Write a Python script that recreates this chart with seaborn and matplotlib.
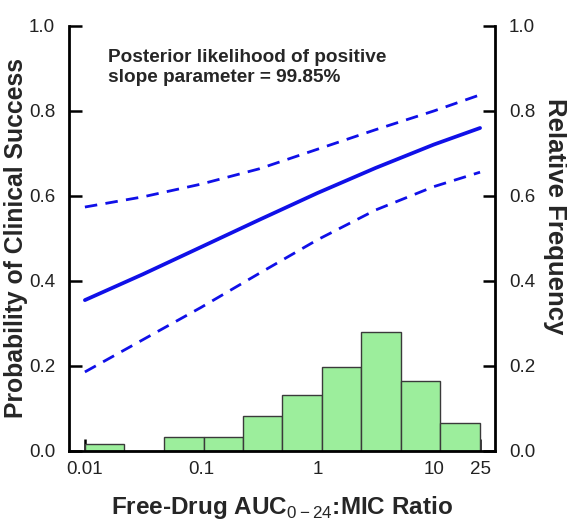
import numpy as np
import pandas as pd
import matplotlib
matplotlib.use("Agg")
import matplotlib.pyplot as plt
import seaborn as sns

# Data
auc_mic = [0.01, 0.0316, 0.1, 0.316, 1, 3.16, 10, 25]
prob_median = [0.355, 0.416, 0.480, 0.544, 0.607, 0.666, 0.721, 0.760]
prob_upper = [0.574, 0.598, 0.628, 0.664, 0.710, 0.756, 0.800, 0.838]
prob_lower = [0.186, 0.262, 0.338, 0.418, 0.497, 0.567, 0.622, 0.656]

# Histogram of AUC:MIC ratios (relative frequency per log-spaced bin)
bin_edges = [0.01, 0.0219, 0.0479, 0.105, 0.229, 0.5, 1.09, 2.39, 5.23, 11.4, 25]
rel_freq = [0.016, 0.0, 0.033, 0.033, 0.082, 0.131, 0.197, 0.279, 0.164, 0.066]

x_ticks = [0.01, 0.1, 1, 10, 25]
x_ticklabels = ["0.01", "0.1", "1", "10", "25"]
y_ticks = [0.0, 0.2, 0.4, 0.6, 0.8, 1.0]

sns.set_style("ticks")
plt.rcParams["font.family"] = ["Liberation Sans", "DejaVu Sans"]
plt.rcParams["mathtext.fontset"] = "custom"
plt.rcParams["mathtext.rm"] = "Liberation Sans"
plt.rcParams["mathtext.bf"] = "Liberation Sans:bold"

fig = plt.figure(figsize=(5.67, 5.23), dpi=100)
ax = fig.add_axes([0.1217, 0.1377, 0.7513, 0.8126])

# histogram bars
ax.bar(bin_edges[:-1], rel_freq,
       width=np.diff(bin_edges), align="edge",
       color="#9cee9c", edgecolor="#3a3a3a", linewidth=1.0, zorder=1)

# curves
curves = pd.DataFrame({"ratio": auc_mic, "median": prob_median,
                       "upper": prob_upper, "lower": prob_lower})
blue = "#1010e8"
sns.lineplot(data=curves, x="ratio", y="median", ax=ax, color=blue,
             linewidth=2.7, zorder=3)
sns.lineplot(data=curves, x="ratio", y="upper", ax=ax, color=blue,
             linewidth=2.0, zorder=3)
sns.lineplot(data=curves, x="ratio", y="lower", ax=ax, color=blue,
             linewidth=2.0, zorder=3)
ax.lines[1].set_dashes((4.5, 3.0))
ax.lines[2].set_dashes((4.5, 3.0))

ax.set_xscale("log")
ax.set_xlim(0.0073, 33.6)
ax.set_ylim(0, 1.0)
ax.set_xticks(x_ticks)
ax.set_xticklabels(x_ticklabels)
ax.xaxis.set_minor_locator(matplotlib.ticker.NullLocator())
ax.set_yticks(y_ticks)
ax.set_yticklabels([f"{v:.1f}" for v in y_ticks])

for side in ["left", "right", "bottom"]:
    ax.spines[side].set_linewidth(2.0)
    ax.spines[side].set_color("black")
ax.spines["top"].set_visible(False)
ax.spines["right"].set_visible(True)

ax.tick_params(axis="both", direction="in", length=9, width=1.8,
               labelsize=13.5, colors="black", labelcolor="#222222")
ax.tick_params(axis="y", pad=10)
ax.tick_params(axis="x", pad=7)

ax.set_xlabel("Free-Drug AUC$_{0\u221224}$:MIC Ratio", fontsize=17.5,
              fontweight="bold", labelpad=12)
ax.set_ylabel("Probability of Clinical Success", fontsize=17.8,
              fontweight="bold")
ax.yaxis.set_label_coords(-0.097, 0.5)

# right axis (relative frequency)
ax2 = ax.twinx()
ax2.set_ylim(0, 1.0)
ax2.set_yticks(y_ticks)
ax2.set_yticklabels([f"{v:.1f}" for v in y_ticks])
for side in ["left", "right", "bottom", "top"]:
    ax2.spines[side].set_visible(False)
ax2.tick_params(axis="y", direction="in", length=9, width=1.8,
                labelsize=13.5, colors="black", labelcolor="#222222", pad=10)
ax2.set_ylabel("Relative Frequency", fontsize=18.5, fontweight="bold",
               rotation=-90, labelpad=23)
ax2.yaxis.label.set_y(0.553)

ax.text(0.092, 0.945, "Posterior likelihood of positive\nslope parameter = 99.85%",
        transform=ax.transAxes, fontsize=13.7, fontweight="bold",
        va="top", ha="left", linespacing=1.2)

fig.savefig("out.png", dpi=100)
